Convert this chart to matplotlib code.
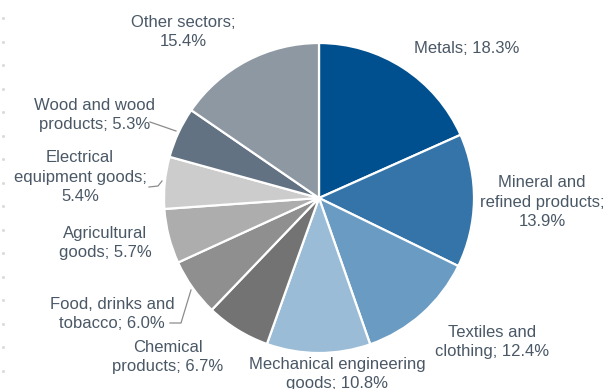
import numpy as np
import matplotlib.pyplot as plt

plt.rcParams['font.family'] = ['Liberation Sans', 'DejaVu Sans']

# Sector shares, clockwise from 12 o'clock
shares = [18.3, 13.9, 12.4, 10.8, 6.7, 6.0, 5.7, 5.4, 5.3, 15.4]
labels = ['Metals; 18.3%', 'Mineral and\nrefined products;\n13.9%',
          'Textiles and\nclothing; 12.4%', 'Mechanical engineering\ngoods; 10.8%',
          'Chemical\nproducts; 6.7%', 'Food, drinks and\ntobacco; 6.0%',
          'Agricultural\ngoods; 5.7%', 'Electrical\nequipment goods;\n5.4%',
          'Wood and wood\nproducts; 5.3%', 'Other sectors;\n15.4%']
colors = ['#00508f', '#3474a8', '#6a9bc3', '#9bbcd7', '#737373',
          '#8f8f8f', '#adadad', '#cccccc', '#627282', '#8e98a3']

W, H = 606, 389
fig = plt.figure(figsize=(W / 100, H / 100), dpi=100)
ax = fig.add_axes([0, 0, 1, 1])

cx, cy, r = 319, H - 198, 155
ax.pie(shares, colors=colors, startangle=90, counterclock=False,
       center=(cx, cy), radius=r,
       wedgeprops=dict(edgecolor='white', linewidth=1.6))
ax.set_xlim(0, W)
ax.set_ylim(0, H)
ax.set_aspect('equal')
ax.axis('off')

txt = '#4a5866'
# label centres in pixel coords (from top)
pos = [(467, 48), (542, 202), (492, 342), (337, 374), (168, 357),
       (112, 314), (105, 243), (80, 177), (95, 115), (183, 32)]
for lab, (x, y) in zip(labels, pos):
    ax.text(x, H - y, lab, ha='center', va='center', fontsize=12,
            color=txt, linespacing=1.38)

# leader lines for the small slices
lc = '#8c8c8c'
ax.plot([150, 176], [H - 122, H - 131], color=lc, lw=0.9)
ax.plot([149, 158, 162], [H - 187, H - 186, H - 181], color=lc, lw=0.9)
ax.plot([170, 181, 191], [H - 323, H - 323, H - 290], color=lc, lw=0.9)

# faint tick marks along the left edge
ax.plot(np.full(16, 3), H - (18 + 23.5 * np.arange(16)), ls='none',
        marker='s', ms=1, color='#d9d9d9')

fig.savefig('out.png', dpi=100)
